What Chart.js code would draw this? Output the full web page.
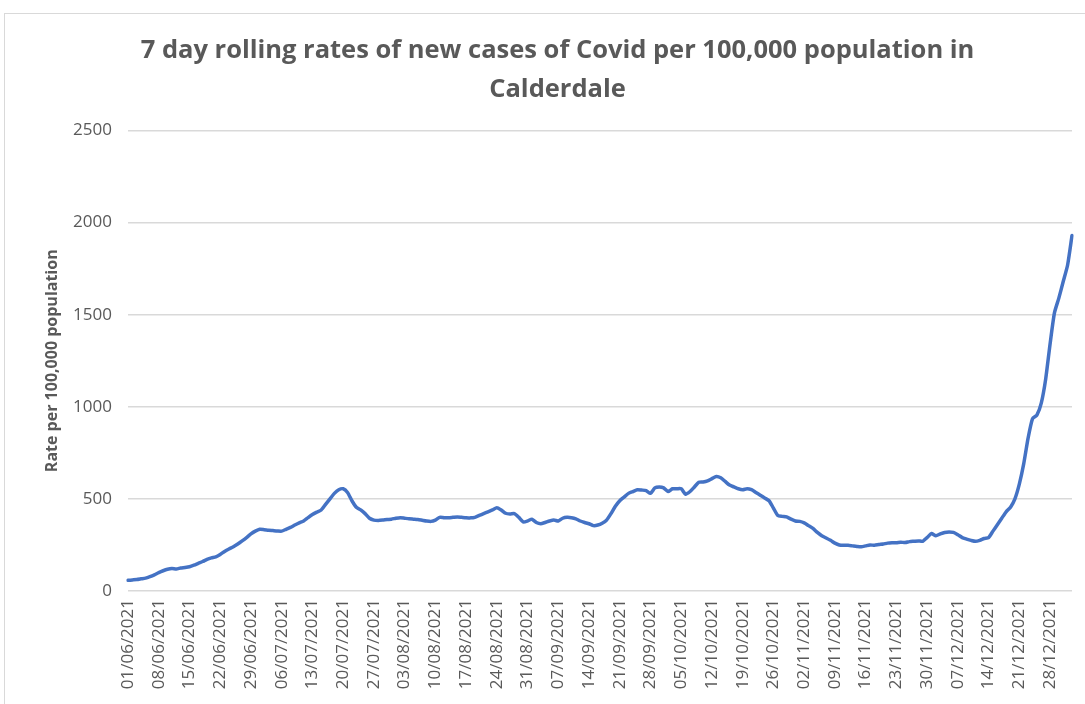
<!DOCTYPE html>
<html>
<head>
<meta charset="utf-8">
<script src="https://cdn.jsdelivr.net/npm/chart.js@4"></script>
<style>
  html, body { margin: 0; padding: 0; background: #ffffff; overflow: hidden; width: 1085px; height: 704px; }
  #frame { position: absolute; left: 4px; top: 13px; width: 1099px; height: 720px; border: 1px solid #d9d9d9; box-sizing: border-box; background: #fff; }
  canvas { display: block; }
</style>
</head>
<body>
<div id="frame"><canvas id="c" width="1097" height="718"></canvas></div>
<script>
// Chart text
const chartTitle = ['7 day rolling rates of new cases of Covid per 100,000 population in', 'Calderdale'];
const yAxisTitle = 'Rate per 100,000 population';

// Categories: daily dates from 01/06/2021 (216 days, to 02/01/2022)
const startDate = new Date(2021, 5, 1);
const dayCount = 216;
const dates = [];
for (let i = 0; i < dayCount; i++) {
  const d = new Date(startDate.getFullYear(), startDate.getMonth(), startDate.getDate() + i);
  const dd = String(d.getDate()).padStart(2, '0');
  const mm = String(d.getMonth() + 1).padStart(2, '0');
  dates.push(dd + '/' + mm + '/' + d.getFullYear());
}

// Weekly tick labels shown on the x axis
const weeklyTicks = ['01/06/2021','08/06/2021','15/06/2021','22/06/2021','29/06/2021','06/07/2021','13/07/2021','20/07/2021','27/07/2021','03/08/2021','10/08/2021','17/08/2021','24/08/2021','31/08/2021','07/09/2021','14/09/2021','21/09/2021','28/09/2021','05/10/2021','12/10/2021','19/10/2021','26/10/2021','02/11/2021','09/11/2021','16/11/2021','23/11/2021','30/11/2021','07/12/2021','14/12/2021','21/12/2021','28/12/2021'];

// Y axis ticks
const yTicks = [0, 500, 1000, 1500, 2000, 2500];

// 7 day rolling rate per 100,000
const rates = [
  58, 60, 62, 66, 70, 78, 88, 100, 110, 118,
  122, 120, 125, 128, 132, 140, 150, 160, 172, 180,
  185, 198, 215, 228, 240, 255, 272, 290, 310, 325,
  335, 333, 330, 328, 326, 325, 335, 345, 358, 370,
  380, 398, 415, 428, 440, 470, 500, 530, 550, 555,
  535, 490, 455, 440, 420, 395, 385, 383, 385, 388,
  390, 395, 398, 395, 392, 390, 388, 384, 380, 378,
  385, 400, 398, 398, 400, 402, 400, 398, 397, 400,
  410, 420, 430, 440, 452, 440, 422, 418, 420, 400,
  375, 380, 390, 372, 365, 372, 380, 385, 380, 395,
  400, 398, 392, 380, 372, 365, 355, 358, 368, 385,
  420, 460, 490, 510, 530, 540, 550, 548, 545, 530,
  560, 565, 560, 540, 555, 555, 555, 525, 540, 565,
  590, 592, 598, 610, 622, 615, 595, 575, 565, 555,
  550, 555, 550, 535, 520, 505, 490, 450, 410, 405,
  402, 390, 380, 378, 370, 355, 340, 318, 300, 288,
  275, 260, 250, 248, 248, 245, 242, 240, 245, 250,
  248, 252, 255, 260, 262, 262, 265, 263, 268, 270,
  272, 270, 290, 312, 300, 310, 318, 320, 318, 305,
  290, 282, 275, 270, 275, 285, 290, 325, 360, 395,
  430, 455, 500, 580, 690, 830, 935, 955, 1020, 1150,
  1340, 1510, 1590, 1680, 1770, 1930
];

const textGray = '#595959';
const fontFamily = "'Open Sans', 'DejaVu Sans', sans-serif";

new Chart(document.getElementById('c'), {
  type: 'line',
  data: {
    labels: dates,
    datasets: [{
      data: rates,
      borderColor: '#4472C4',
      borderWidth: 3.5,
      pointRadius: 0,
      pointHoverRadius: 0,
      tension: 0.2,
      borderCapStyle: 'round',
      borderJoinStyle: 'round',
      fill: false
    }]
  },
  options: {
    responsive: false,
    animation: false,
    devicePixelRatio: 1,
    layout: { padding: { left: 38, right: 30, top: 0, bottom: 31 } },
    plugins: {
      legend: { display: false },
      tooltip: { enabled: false },
      title: {
        display: true,
        text: chartTitle,
        color: textGray,
        font: { family: fontFamily, size: 25.5, weight: 'bold', lineHeight: 1.5 },
        padding: { top: 18, bottom: 22 }
      }
    },
    scales: {
      x: {
        type: 'category',
        offset: false,
        grid: { display: false, drawTicks: false },
        border: { display: false },
        ticks: {
          autoSkip: false,
          maxRotation: 90,
          minRotation: 90,
          padding: 8,
          color: textGray,
          font: { family: fontFamily, size: 17 },
          callback: function(value, index) {
            const lbl = this.getLabelForValue(value);
            return weeklyTicks.includes(lbl) ? lbl : '';
          }
        },
        afterFit: function(scale) { scale.height = 110; }
      },
      y: {
        min: 0,
        max: 2500,
        afterBuildTicks: function(scale) { scale.ticks = yTicks.map(v => ({ value: v })); },
        grid: { color: '#d9d9d9', lineWidth: 1.5, drawTicks: false },
        border: { display: false },
        ticks: {
          padding: 16,
          color: textGray,
          font: { family: fontFamily, size: 17 },
          callback: function(value) { return String(value); }
        },
        title: {
          display: true,
          text: yAxisTitle,
          color: textGray,
          font: { family: fontFamily, size: 16, weight: 'bold', lineHeight: 1.2 },
          padding: { top: 0, bottom: 0 }
        },
        afterFit: function(scale) { scale.width = 85; }
      }
    }
  }
});
</script>
</body>
</html>
